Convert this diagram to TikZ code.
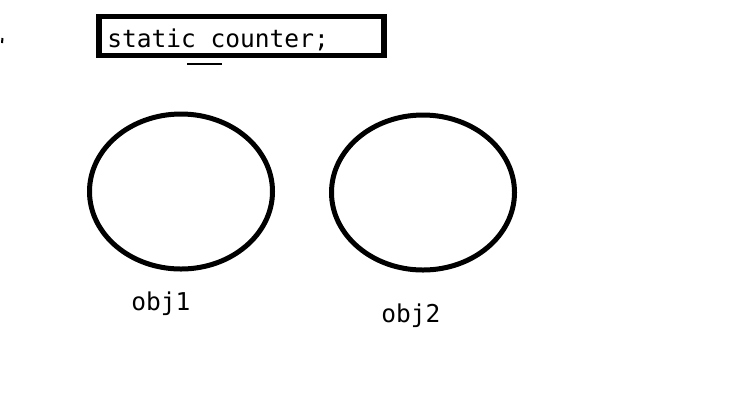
\documentclass[tikz,border=0pt]{standalone}
\usepackage{fontspec}
\setmonofont{DejaVu Sans Mono}
\usetikzlibrary{shapes.geometric}
\begin{document}
\begin{tikzpicture}[x=0.75pt,y=-0.75pt,
  codetext/.style={font=\ttfamily\fontsize{18.4pt}{20pt}\selectfont, inner sep=0pt, anchor=base west},
  objshape/.style={draw, ellipse, line width=3.75pt, minimum width=137.25pt, minimum height=116.25pt, inner sep=0pt},
  codebox/.style={draw, rectangle, line width=4pt, minimum width=213.75pt, minimum height=29.25pt, inner sep=0pt}]
\useasboundingbox (0,0) rectangle (734,405);
\node[codebox] (box) at (241.5,36) {};
\node[codetext] (code) at (107,47) {static counter;};
\coordinate (d1) at (187,64);
\coordinate (d2) at (222,64);
\draw[line width=1.5pt] (d1) -- (d2);
\coordinate (c1) at (2.5,38);
\coordinate (c2) at (2,43);
\draw[line width=1.5pt] (c1) -- (c2);
\node[objshape] (o1) at (181,191.5) {};
\node[objshape] (o2) at (423,192.5) {};
\node[codetext] (l1) at (131,310) {obj1};
\node[codetext] (l2) at (381,322) {obj2};
\end{tikzpicture}
\end{document}
